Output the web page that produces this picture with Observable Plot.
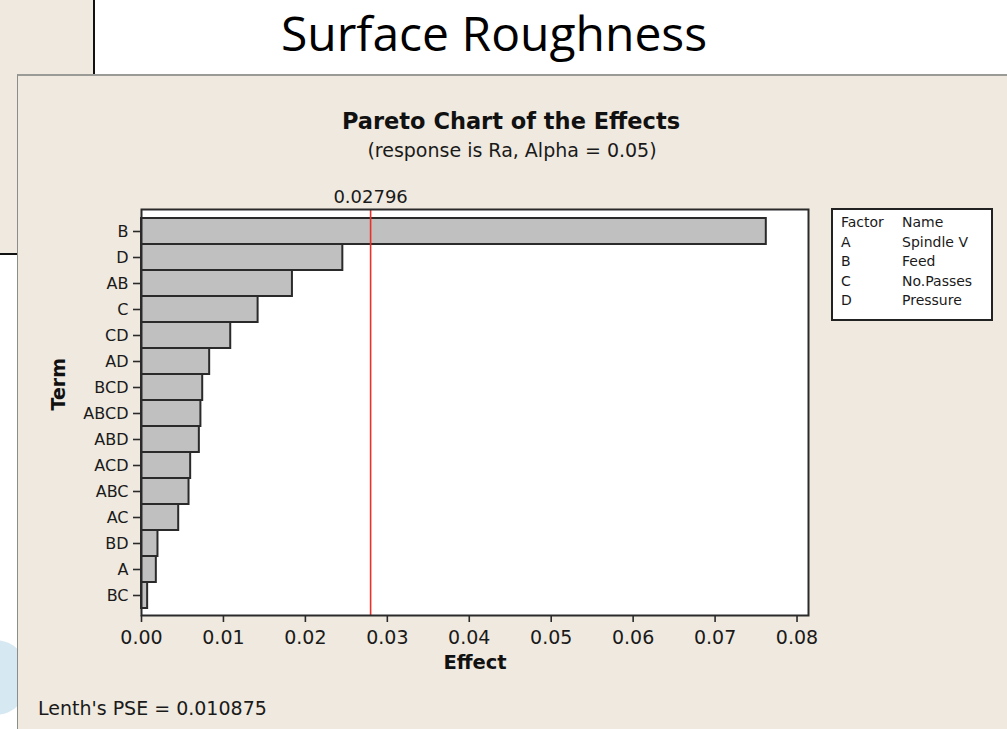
<!DOCTYPE html>
<html>
<head>
<meta charset="utf-8">
<script src="https://cdn.jsdelivr.net/npm/d3@7"></script>
<script src="https://cdn.jsdelivr.net/npm/@observablehq/plot@0.6"></script>
<style>
  html, body { margin: 0; padding: 0; background: #ffffff; width: 1007px; height: 729px; overflow: hidden; position: relative; }
  .abs { position: absolute; }
  #topleft { left: 0; top: 0; width: 93px; height: 74px; background: #efe9df; border-right: 2px solid #111; }
  #leftstrip { left: 0; top: 74px; width: 17px; height: 179px; background: #efe9df; border-bottom: 2px solid #111; }
  #swoosh { left: -40px; top: 640px; width: 70px; height: 75px; border-radius: 50%; background: #d6e8f1; }
  #slideTitle { left: 194px; width: 600px; top: 9px; text-align: center; font-family: "Open Sans", sans-serif; font-size: 48px; line-height: 48px; color: #000; }
  #panel { left: 17px; top: 74px; width: 989px; height: 655px; background: #efe9df; border-left: 1px solid #8c8c88; border-top: 2px solid #9a9a96; }
  #chartTitle { left: 211px; width: 600px; top: 108px; text-align: center; font-family: "DejaVu Sans", sans-serif; font-weight: bold; font-size: 22.5px; line-height: 26px; color: #111; }
  #chartSub { left: 212px; width: 600px; top: 139px; text-align: center; font-family: "DejaVu Sans", sans-serif; font-size: 19px; line-height: 22px; color: #1a1a1a; }
  #lenth { left: 38px; top: 697px; font-family: "DejaVu Sans", sans-serif; font-size: 19px; line-height: 22px; color: #1a1a1a; white-space: nowrap; }
  #legend { left: 831px; top: 208px; width: 150px; height: 106px; background: #fff; border: 2px solid #222; font-family: "DejaVu Sans", sans-serif; font-size: 14px; line-height: 19.6px; color: #1a1a1a; padding: 3px 0 0 8px; box-sizing: content-box; }
  #legend .row { display: flex; white-space: nowrap; }
  #legend .c1 { width: 61px; }
  #chart { left: 17px; top: 75px; }
</style>
</head>
<body>
<div id="topleft" class="abs"></div>
<div id="leftstrip" class="abs"></div>
<div id="swoosh" class="abs"></div>
<div id="panel" class="abs"></div>
<div id="slideTitle" class="abs">Surface Roughness</div>
<div id="chart" class="abs"></div>
<div id="chartTitle" class="abs">Pareto Chart of the Effects</div>
<div id="chartSub" class="abs">(response is Ra, Alpha = 0.05)</div>
<div id="legend" class="abs"></div>
<div id="lenth" class="abs">Lenth's PSE = 0.010875</div>
<script>
// ---- data ----
const terms = ["B", "D", "AB", "C", "CD", "AD", "BCD", "ABCD", "ABD", "ACD", "ABC", "AC", "BD", "A", "BC"];
const effects = [0.07625, 0.02457, 0.01842, 0.01423, 0.01089, 0.00832, 0.00747, 0.00725, 0.00706, 0.00600, 0.00580, 0.00454, 0.00201, 0.00181, 0.00075];
const xTicks = [0, 0.01, 0.02, 0.03, 0.04, 0.05, 0.06, 0.07, 0.08];
const threshold = 0.02796;
const thresholdLabel = "0.02796";
const factorCodes = ["A", "B", "C", "D"];
const factorNames = ["Spindle V", "Feed", "No.Passes", "Pressure"];

const data = terms.map((t, i) => ({term: t, effect: effects[i]}));

// legend (HTML text)
const legend = document.getElementById("legend");
const rows = [["Factor", "Name"]].concat(factorCodes.map((c, i) => [c, factorNames[i]]));
for (const [a, b] of rows) {
  const r = document.createElement("div");
  r.className = "row";
  const s1 = document.createElement("span"); s1.className = "c1"; s1.textContent = a;
  const s2 = document.createElement("span"); s2.textContent = b;
  r.appendChild(s1); r.appendChild(s2);
  legend.appendChild(r);
}

const chart = Plot.plot({
  width: 990,
  height: 654,
  marginLeft: 124,
  marginRight: 199,
  marginTop: 134,
  marginBottom: 114,
  style: {background: "transparent", fontFamily: "DejaVu Sans, sans-serif", color: "#1a1a1a", overflow: "visible"},
  x: {domain: [0, 0.0814], label: null},
  y: {domain: terms, padding: 0, insetTop: 6, insetBottom: 5, label: null},
  marks: [
    Plot.frame({fill: "white", stroke: null}),
    Plot.barX(data, {x: "effect", y: "term", fill: "#c0c0c0", stroke: "#2a2a2a", strokeWidth: 2}),
    Plot.ruleX([threshold], {stroke: "#e8312b", strokeWidth: 1.6}),
    Plot.frame({stroke: "#2a2a2a", strokeWidth: 2}),
    Plot.axisX({ticks: xTicks, tickFormat: d3.format(".2f"), tickSize: 7, tickPadding: 8, fontSize: 19, stroke: "#2a2a2a", strokeWidth: 1.6, label: null}),
    Plot.axisY({tickSize: 8, tickPadding: 5, fontSize: 16, stroke: "#2a2a2a", strokeWidth: 1.6, label: null}),
    Plot.text([thresholdLabel], {x: () => threshold, frameAnchor: "top", dy: -19, text: d => d, fontSize: 18, fill: "#1a1a1a"}),
    Plot.text(["Effect"], {frameAnchor: "bottom", dy: 53, text: d => d, fontSize: 19.5, fontWeight: "bold", fill: "#111"}),
    Plot.text(["Term"], {frameAnchor: "left", dx: -83, dy: -2, rotate: -90, text: d => d, fontSize: 19, fontWeight: "bold", fill: "#111"})
  ]
});
document.getElementById("chart").appendChild(chart);
</script>
</body>
</html>
